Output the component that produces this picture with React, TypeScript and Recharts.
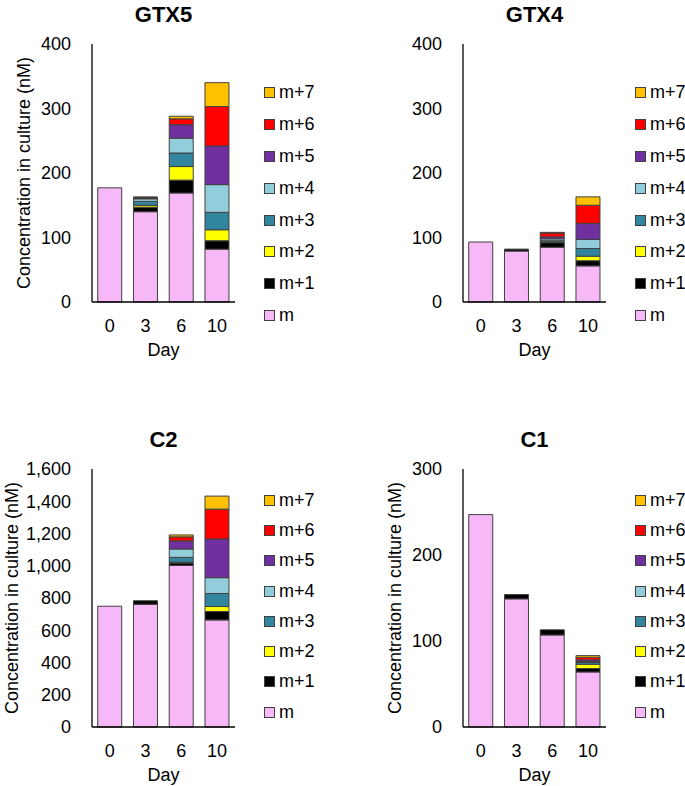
import { BarChart, Bar, XAxis, YAxis, Legend } from 'recharts'

// sampling days and isotopologue series (m .. m+7)
const days = ['0', '3', '6', '10']
const seriesKeys = ['m', 'm1', 'm2', 'm3', 'm4', 'm5', 'm6', 'm7']
const seriesNames = ['m', 'm+1', 'm+2', 'm+3', 'm+4', 'm+5', 'm+6', 'm+7']
const seriesColors = ['#F7B8F7', '#000000', '#FFFF00', '#31859C', '#92CDDC', '#7030A0', '#FF0000', '#FFC000']

// rows = m .. m+7, columns = days
const gtx5 = [
  [177, 140, 169, 82],
  [0, 7, 20, 13],
  [0, 3, 21, 17],
  [0, 6, 21, 27],
  [0, 4, 23, 43],
  [0, 1, 21, 60],
  [0, 1, 9, 61],
  [0, 1, 4, 37],
]
const gtx4 = [
  [93, 79, 85, 56],
  [0, 3, 7, 8],
  [0, 0, 1, 7],
  [0, 0, 2, 12],
  [0, 0, 3, 14],
  [0, 0, 3, 25],
  [0, 0, 6, 28],
  [0, 0, 1, 13],
]
const c2 = [
  [749, 761, 1002, 664],
  [0, 22, 15, 52],
  [0, 0, 5, 31],
  [0, 0, 30, 81],
  [0, 0, 52, 98],
  [0, 0, 50, 240],
  [0, 0, 25, 185],
  [0, 0, 12, 81],
]
const c1 = [
  [247, 149, 107, 64],
  [0, 5, 6, 4],
  [0, 0, 0, 5],
  [0, 0, 0, 2],
  [0, 0, 0, 1],
  [0, 0, 0, 2],
  [0, 0, 0, 3],
  [0, 0, 0, 2],
]

const ticks400 = [0, 100, 200, 300, 400]
const ticks1600 = [0, 200, 400, 600, 800, 1000, 1200, 1400, 1600]
const ticks300 = [0, 100, 200, 300]

const FONT = '"Liberation Sans", Arial, sans-serif'
const PLOT_TOP = 44
const PLOT_H = 258
const X_AXIS_H = 60

interface PanelProps {
  title: string
  rows: number[][]
  ticks: number[]
  left: number
  top: number
  legendTop: number
  legendGap: number
  yLabelX?: number // omit to hide the y title
}

function StackLegend({ gap }: { gap: number }) {
  const order = seriesKeys.map((_, i) => i).reverse()
  return (
    <div style={{ fontFamily: FONT, fontSize: 18, color: '#000' }}>
      {order.map((i) => (
        <div key={i} style={{ height: gap, display: 'flex', alignItems: 'center' }}>
          <span
            style={{
              width: 9,
              height: 9,
              background: seriesColors[i],
              border: '1px solid #404040',
              marginRight: 4,
              display: 'inline-block',
            }}
          />
          <span>{seriesNames[i]}</span>
        </div>
      ))}
    </div>
  )
}

// rotated y title, centred on the plot area
const makeYTitle = (cx: number) => () => {
  const cy = PLOT_TOP + PLOT_H / 2
  return (
    <text
      x={cx}
      y={cy}
      transform={`rotate(-90 ${cx} ${cy})`}
      textAnchor="middle"
      dominantBaseline="central"
      fill="#000"
      fontSize={18}
      fontFamily={FONT}
    >
      Concentration in culture (nM)
    </text>
  )
}

function Panel({ title, rows, ticks, left, top, legendTop, legendGap, yLabelX }: PanelProps) {
  const data = days.map((day, i) => {
    const row: Record<string, string | number> = { day }
    seriesKeys.forEach((k, s) => {
      row[k] = rows[s][i]
    })
    return row
  })
  const yMax = ticks[ticks.length - 1]
  const height = PLOT_TOP + PLOT_H + X_AXIS_H

  return (
    <div style={{ position: 'absolute', left, top, width: 342, height }}>
      <div
        style={{
          position: 'absolute',
          left: 92,
          top: 2,
          width: 143,
          textAlign: 'center',
          fontFamily: FONT,
          fontWeight: 700,
          fontSize: 22,
          lineHeight: '26px',
          color: '#000',
        }}
      >
        {title}
      </div>
      <BarChart
        width={342}
        height={height}
        data={data}
        margin={{ top: PLOT_TOP, right: 107, bottom: 0, left: 0 }}
        barCategoryGap="16%"
        style={{ fontFamily: FONT }}
      >
        <XAxis
          dataKey="day"
          height={X_AXIS_H}
          tickLine={false}
          axisLine={{ stroke: '#000', strokeWidth: 1.3 }}
          tick={{ fill: '#000', fontSize: 18 }}
          tickSize={0}
          tickMargin={17}
          label={{ value: 'Day', position: 'insideBottom', offset: 6, fill: '#000', fontSize: 18 }}
        />
        <YAxis
          width={92}
          domain={[0, yMax]}
          ticks={ticks}
          interval={0}
          tickLine={false}
          axisLine={{ stroke: '#000', strokeWidth: 1.3 }}
          tick={{ fill: '#000', fontSize: 18 }}
          tickSize={0}
          tickMargin={21}
          tickFormatter={(v: number) => v.toLocaleString('en-US')}
          label={yLabelX !== undefined ? { content: makeYTitle(yLabelX) } : undefined}
        />
        <Legend
          layout="horizontal"
          align="center"
          verticalAlign="middle"
          wrapperStyle={{ position: 'absolute', left: 264, top: legendTop, width: 80, height: legendGap * 8 }}
          content={() => <StackLegend gap={legendGap} />}
        />
        {seriesKeys.map((k, i) => (
          <Bar
            key={k}
            dataKey={k}
            name={seriesNames[i]}
            stackId="a"
            fill={seriesColors[i]}
            stroke="#404040"
            strokeWidth={1}
            isAnimationActive={false}
          />
        ))}
      </BarChart>
    </div>
  )
}

export default function App() {
  return (
    <div style={{ position: 'absolute', left: 0, top: 0, width: 685, height: 786, overflow: 'hidden', background: '#fff' }}>
      <Panel title="GTX5" rows={gtx5} ticks={ticks400} left={0} top={0} legendTop={77} legendGap={31.8} yLabelX={24} />
      <Panel title="GTX4" rows={gtx4} ticks={ticks400} left={371} top={0} legendTop={77} legendGap={31.8} />
      <Panel title="C2" rows={c2} ticks={ticks1600} left={0} top={425} legendTop={60} legendGap={30.3} yLabelX={12} />
      <Panel title="C1" rows={c1} ticks={ticks300} left={371} top={425} legendTop={60} legendGap={30.3} yLabelX={24} />
    </div>
  )
}
